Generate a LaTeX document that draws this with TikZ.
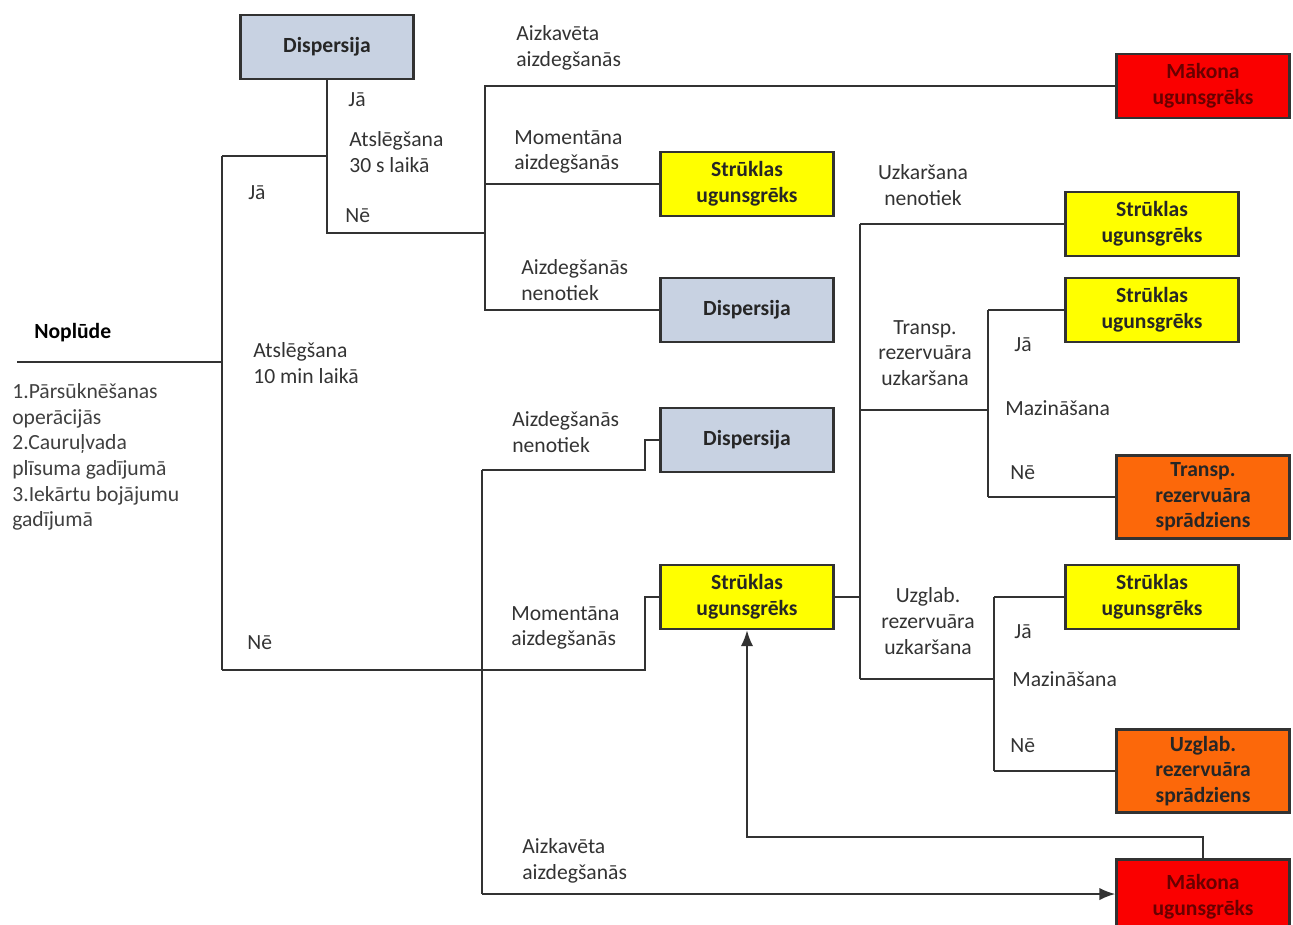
\documentclass[tikz,border=0pt]{standalone}
\usepackage{fontspec}
\setmainfont{Carlito}
\usetikzlibrary{arrows.meta, positioning}

\definecolor{dispfill}{RGB}{200,210,226}
\definecolor{jetfill}{RGB}{255,255,0}
\definecolor{cloudfill}{RGB}{250,0,0}
\definecolor{blastfill}{RGB}{252,104,10}
\definecolor{linecol}{RGB}{50,50,50}
\definecolor{cloudtext}{RGB}{105,0,0}

\newcommand{\diagfont}{\fontsize{12.3}{14.6}\selectfont}

\tikzset{
  outcome/.style={draw=linecol, line width=1.4pt, minimum width=3.46cm, minimum height=1.28cm,
    align=center, font=\diagfont\bfseries, inner sep=2pt, text=black!85},
  disp/.style={outcome, fill=dispfill},
  jet/.style={outcome, fill=jetfill},
  cloud/.style={outcome, fill=cloudfill, text=cloudtext},
  blast/.style={outcome, fill=blastfill, minimum height=1.66cm},
  lbl/.style={anchor=west, align=left, inner sep=0pt, text=black!80},
  clbl/.style={align=center, inner sep=0pt, text=black!80},
  branch/.style={draw=linecol, line width=1.1pt},
}

\begin{document}
\begin{tikzpicture}[x=0.02cm, y=-0.02cm, >=Latex, font=\diagfont]
  \useasboundingbox (0,0) rectangle (1293,924);

  % outcome boxes
  \node[disp]  (dispTop) at (327,47)   {Dispersija};
  \node[cloud] (cloudA)  at (1203,86)  {Mākona\\ugunsgrēks};
  \node[jet]   (jetA)    at (747,184)  {Strūklas\\ugunsgrēks};
  \node[disp]  (dispA)   at (747,310)  {Dispersija};
  \node[jet]   (jetB)    at (1152,224) {Strūklas\\ugunsgrēks};
  \node[jet]   (jetC)    at (1152,310) {Strūklas\\ugunsgrēks};
  \node[blast] (blastA)  at (1203,497) {Transp.\\rezervuāra\\sprādziens};
  \node[disp]  (dispB)   at (747,440)  {Dispersija};
  \node[jet]   (jetD)    at (747,597)  {Strūklas\\ugunsgrēks};
  \node[jet]   (jetE)    at (1152,597) {Strūklas\\ugunsgrēks};
  \node[blast] (blastB)  at (1203,771) {Uzglab.\\rezervuāra\\sprādziens};
  \node[cloud, minimum height=1.5cm] (cloudB) at (1203,897) {Mākona\\ugunsgrēks};

  % junctions
  \coordinate (src)    at (17,362);
  \coordinate (k10)    at (222,362);
  \coordinate (k10yes) at (222,156);
  \coordinate (k10no)  at (222,670);
  \coordinate (k30)    at (327,156);
  \coordinate (k30no)  at (327,233);
  \coordinate (ignA)   at (485,233);
  \coordinate (ignBtop) at (482,470);
  \coordinate (ignBbot) at (482,894);
  \coordinate (jogD)   at (645,470);
  \coordinate (jogJ)   at (645,670);
  \coordinate (loop)   at (747,837);
  \coordinate (heatTop) at (860,224);
  \coordinate (heatBot) at (860,679);
  \coordinate (tHeat)  at (860,410);
  \coordinate (tMit)   at (988,410);
  \coordinate (uMit)   at (994,679);

  % first split
  \draw[branch] (src) -- (k10);
  \draw[branch] (k10yes) -- (k10no);
  \draw[branch] (k10yes) -- (k30);
  \draw[branch] (dispTop.south) -- (k30no) -- (ignA);
  \draw[branch] (cloudA.west) -- (ignA |- cloudA.west) -- (ignA |- dispA.west) -- (dispA.west);
  \draw[branch] (ignA |- jetA.west) -- (jetA.west);

  % second split
  \draw[branch] (k10no) -- (jogJ) |- (jetD.west);
  \draw[branch] (ignBtop) -- (ignBbot);
  \draw[branch] (ignBtop) -- (jogD) |- (dispB.west);
  \draw[branch, -{Latex[length=9pt, width=7pt]}] (ignBbot) -- (ignBbot -| cloudB.west);
  \draw[branch, -{Latex[length=9pt, width=7pt]}] (cloudB.north) |- (loop) -- (jetD.south);

  % heating branches
  \draw[branch] (jetD.east) -- (jetD.east -| heatTop);
  \draw[branch] (heatTop) -- (heatBot);
  \draw[branch] (heatTop) -- (jetB.west);
  \draw[branch] (tHeat) -- (tMit);
  \draw[branch] (tMit |- jetC.west) -- (tMit |- blastA.west);
  \draw[branch] (tMit |- jetC.west) -- (jetC.west);
  \draw[branch] (tMit |- blastA.west) -- (blastA.west);
  \draw[branch] (heatBot) -- (uMit);
  \draw[branch] (uMit |- jetE.west) -- (uMit |- blastB.west);
  \draw[branch] (uMit |- jetE.west) -- (jetE.west);
  \draw[branch] (uMit |- blastB.west) -- (blastB.west);

  % labels
  \node[lbl, font=\diagfont\bfseries, text=black] (leak) at (34,333) {Noplūde};
  \node[lbl, text=black!75] (cause) at (12,457)
    {1.Pārsūknēšanas\\operācijās\\2.Cauruļvada\\plīsuma gadījumā\\3.Iekārtu bojājumu\\gadījumā};
  \foreach \x/\y/\txt [count=\i] in {
      348/100/{Jā}, 349/152/{Atslēgšana\\30 s laikā}, 345/216/{Nē},
      248/193/{Jā}, 253/363/{Atslēgšana\\10 min laikā}, 247/643/{Nē},
      516/48/{Aizkavēta\\aizdegšanās}, 514/152/{Momentāna\\aizdegšanās},
      521/280/{Aizdegšanās\\nenotiek}, 512/432/{Aizdegšanās\\nenotiek},
      511/628/{Momentāna\\aizdegšanās}, 522/861/{Aizkavēta\\aizdegšanās},
      1014/345/{Jā}, 1005/408/{Mazināšana}, 1010/473/{Nē},
      1014/632/{Jā}, 1012/679/{Mazināšana}, 1010/746/{Nē}} {
    \node[lbl] (lab\i) at (\x,\y) {\txt};
  }
  \foreach \x/\y/\txt [count=\i] in {
      923/185/{Uzkaršana\\nenotiek}, 925/353/{Transp.\\rezervuāra\\uzkaršana},
      928/621/{Uzglab.\\rezervuāra\\uzkaršana}} {
    \node[clbl] (heat\i) at (\x,\y) {\txt};
  }
\end{tikzpicture}
\end{document}
